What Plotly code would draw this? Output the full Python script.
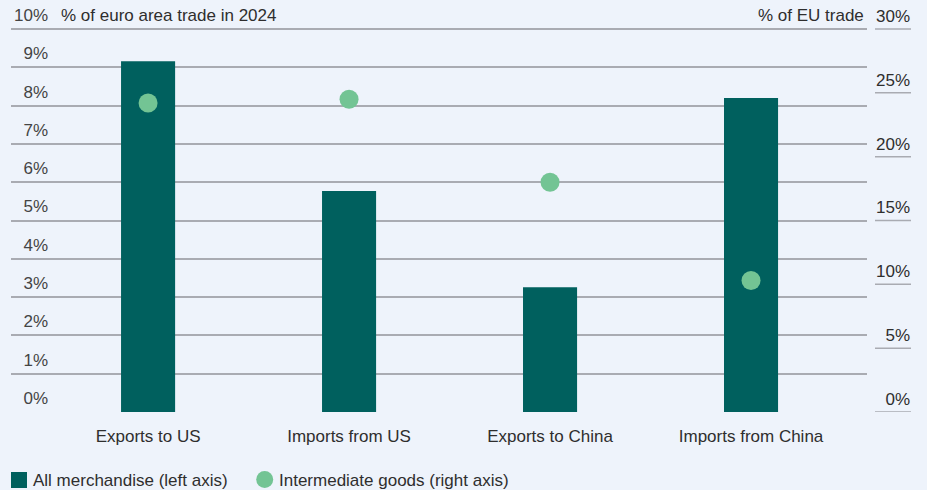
import plotly.graph_objects as go

categories = ["Exports to US", "Imports from US", "Exports to China", "Imports from China"]
all_merch = [9.16, 5.77, 3.26, 8.20]          # % of euro area trade, left axis
intermediate = [24.2, 24.5, 18.0, 10.3]       # % of EU trade, right axis
left_ticks = [0, 1, 2, 3, 4, 5, 6, 7, 8, 9, 10]
left_ticktext = ["\u20070%", "\u20071%", "\u20072%", "\u20073%", "\u20074%", "\u20075%",
                 "\u20076%", "\u20077%", "\u20078%", "\u20079%", "10%"]
right_ticks = [0, 5, 10, 15, 20, 25, 30]
right_ticktext = ["\u20070%", "\u20075%", "10%", "15%", "20%", "25%", "30%"]
legend_names = ["All merchandise (left axis)", "Intermediate goods (right axis)"]

W, H = 927, 490
ML, MR, MT, MB = 11, 60, 5, 78
PW = W - ML - MR
PH = H - MT - MB
TOP_GRID_PX = 29                      # pixel row of the 10% / 30% gridline
ext = PH / (H - MB - TOP_GRID_PX)     # range extension factor above top gridline

BG = "#EEF3FB"
BAR = "#00605E"
DOT = "#73C494"
GRID = "#A9ABB2"
TXT = "#2E2E2E"
FONT = "Liberation Sans, Arial, sans-serif"
FS = 17


def px2x(px):
    return (px - ML) / PW


def px2y(py):
    return (H - MB - py) / PH


fig = go.Figure()
fig.add_trace(go.Bar(x=categories, y=all_merch, name=legend_names[0], showlegend=False,
                     marker=dict(color=BAR, line=dict(width=0)), width=0.269, yaxis="y"))
fig.add_trace(go.Scatter(x=categories, y=intermediate, name=legend_names[1], showlegend=False,
                         mode="markers", marker=dict(color=DOT, size=19, line=dict(width=0)),
                         yaxis="y2"))

shapes = []
for v in right_ticks:
    shapes.append(dict(type="line", xref="paper", yref="y2",
                       x0=px2x(875), x1=px2x(911), y0=v, y1=v,
                       line=dict(color=GRID, width=1.5), layer="below"))

# legend symbols
shapes.append(dict(type="rect", xref="paper", yref="paper",
                   x0=px2x(11), x1=px2x(27), y0=px2y(488), y1=px2y(472),
                   fillcolor=BAR, line=dict(width=0)))
shapes.append(dict(type="circle", xref="paper", yref="paper",
                   x0=px2x(256.2), x1=px2x(273.2), y0=px2y(488), y1=px2y(471),
                   fillcolor=DOT, line=dict(width=0)))

annotations = [
    dict(text="% of euro area trade in 2024", xref="paper", yref="paper",
         x=px2x(59), y=px2y(16), xanchor="left", yanchor="middle",
         showarrow=False, font=dict(family=FONT, size=FS, color=TXT)),
    dict(text="% of EU trade", xref="paper", yref="paper",
         x=px2x(866), y=px2y(16), xanchor="right", yanchor="middle",
         showarrow=False, font=dict(family=FONT, size=FS, color=TXT)),
    dict(text=legend_names[0], xref="paper", yref="paper",
         x=px2x(31), y=px2y(480), xanchor="left", yanchor="middle",
         showarrow=False, font=dict(family=FONT, size=FS, color=TXT)),
    dict(text=legend_names[1], xref="paper", yref="paper",
         x=px2x(277), y=px2y(480), xanchor="left", yanchor="middle",
         showarrow=False, font=dict(family=FONT, size=FS, color=TXT)),
]

fig.update_layout(
    width=W, height=H,
    margin=dict(l=ML, r=MR, t=MT, b=MB, autoexpand=False),
    paper_bgcolor=BG, plot_bgcolor=BG,
    font=dict(family=FONT, size=FS, color=TXT),
    showlegend=False,
    xaxis=dict(range=[-0.682, 3.577], showgrid=False, zeroline=False, showline=False,
               ticks="", ticklabelstandoff=12, fixedrange=True),
    yaxis=dict(range=[0, 10 * ext], tickvals=left_ticks, ticktext=left_ticktext,
               ticklabelposition="inside", ticklabelshift=-14, ticklabelstandoff=0,
               showgrid=True, gridcolor=GRID, gridwidth=1.5, zeroline=False,
               showline=False, ticks=""),
    yaxis2=dict(range=[0, 30 * ext], tickvals=right_ticks, ticktext=right_ticktext,
                overlaying="y", side="right", showgrid=False, zeroline=False,
                showline=False, ticks="", ticklabelshift=-13, ticklabelstandoff=8),
    shapes=shapes,
    annotations=annotations,
)

fig.write_html("out.html")
